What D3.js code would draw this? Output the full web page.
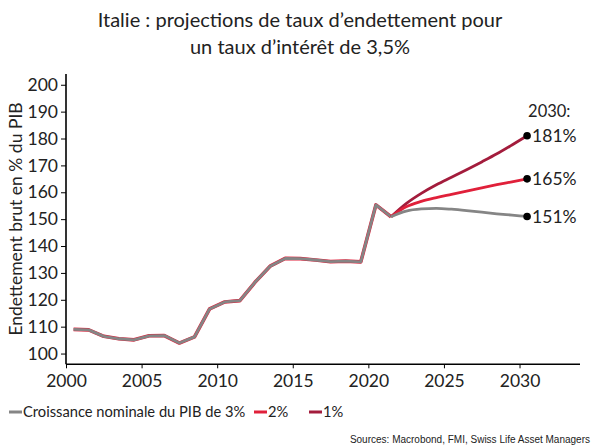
<!DOCTYPE html>
<html><head><meta charset="utf-8">
<script src="https://cdn.jsdelivr.net/npm/d3@7"></script>
<style>body{margin:0;background:#fff}svg{display:block}</style>
</head><body><svg id="c" width="593" height="446"></svg>
<script>
const histYears = [2000,2001,2002,2003,2004,2005,2006,2007,2008,2009,2010,2011,2012,2013,2014,2015,2016,2017,2018,2019,2020,2021];
const histValues = [109,108.8,106.4,105.5,105.1,106.6,106.7,103.9,106.2,116.6,119.2,119.7,126.5,132.5,135.4,135.3,134.8,134.2,134.4,134.1,155.3,150.9];
const projYears = [2021,2022,2023,2024,2025,2026,2027,2028,2029,2030];
const proj3 = [150.9,153.0,153.8,154.0,153.7,153.2,152.6,152.0,151.5,151];
const proj2 = [150.9,154.6,156.6,158.0,159.2,160.4,161.6,162.8,163.9,165];
const proj1 = [150.9,155.8,159.6,162.8,165.6,168.4,171.3,174.3,177.6,181];
const seriesNames = ["Croissance nominale du PIB de 3%","2%","1%"];
const seriesColors = ["#858585","#e0203a","#a31c3c"];
const endLabels = ["151%","165%","181%"];
const yTicks = [100,110,120,130,140,150,160,170,180,190,200];
const xTicks = [2000,2005,2010,2015,2020,2025,2030];

const svg = d3.select("#c");
const font = "Lato, 'Open Sans', sans-serif";
const x = d3.scaleLinear().domain([2000,2034]).range([66,580]);
const y = d3.scaleLinear().domain([96,204]).range([364.3,74]);

// title
svg.append("text").attr("x",300).attr("y",27).attr("text-anchor","middle")
  .attr("font-family",font).attr("font-size",20).attr("fill","#222")
  .text("Italie : projections de taux d’endettement pour");
svg.append("text").attr("x",300).attr("y",54).attr("text-anchor","middle")
  .attr("font-family",font).attr("font-size",20).attr("fill","#222")
  .text("un taux d’intérêt de 3,5%");

// axes
const yAxis = svg.append("g").attr("transform","translate(66,0)")
  .call(d3.axisLeft(y).tickValues(yTicks).tickSize(5).tickPadding(3));
const xAxis = svg.append("g").attr("transform","translate(0,364.3)")
  .call(d3.axisBottom(x).tickValues(xTicks).tickFormat(d3.format("d")).tickSize(4).tickPadding(6));
[yAxis,xAxis].forEach(a=>{
  a.select(".domain").attr("stroke","#000").attr("stroke-width",1.6);
  a.selectAll(".tick line").attr("stroke","#000");
  a.selectAll("text").attr("font-family",font).attr("font-size",17.5).attr("fill","#222");
});
yAxis.select(".domain").attr("d",`M0,${y(204)}V${y(96)}`);
xAxis.select(".domain").attr("d",`M${x(2000)},0H${x(2034)}`);

svg.append("text").attr("transform",`translate(22,${(74+364)/2}) rotate(-90)`)
  .attr("text-anchor","middle").attr("font-family",font).attr("font-size",17.5).attr("fill","#222")
  .text("Endettement brut en % du PIB");

const line = d3.line().x(d=>x(d[0]+0.5)).y(d=>y(d[1])).curve(d3.curveMonotoneX);
const hist = histYears.map((yr,i)=>[yr,histValues[i]]);
const histLine = d3.line().x(d=>x(d[0]+0.5)).y(d=>y(d[1]));
const projs = [proj3,proj2,proj1];

svg.append("path").attr("d",histLine(hist)).attr("fill","none").attr("stroke",seriesColors[1]).attr("stroke-width",3.6).attr("stroke-linejoin","round");
svg.append("path").attr("d",histLine(hist)).attr("fill","none").attr("stroke",seriesColors[0]).attr("stroke-width",2.8).attr("stroke-linejoin","round");

[2,1,0].forEach(i=>{
  const pts = projYears.map((yr,j)=>[yr,projs[i][j]]);
  svg.append("path").attr("d",line(pts)).attr("fill","none")
    .attr("stroke",seriesColors[i]).attr("stroke-width",2.8).attr("stroke-linejoin","round");
});
projs.forEach((p,i)=>{
  const last = p[p.length-1];
  const yr = projYears[projYears.length-1];
  svg.append("circle").attr("cx",x(yr+0.5)).attr("cy",y(last)).attr("r",3.8).attr("fill","#000");
  svg.append("text").attr("x",x(yr+0.5)+5).attr("y",y(last)).attr("dy","0.35em")
    .attr("font-family",font).attr("font-size",17.5).attr("fill","#222").text(endLabels[i]);
});
svg.append("text").attr("x",x(2030.5)+1).attr("y",y(181)-19)
  .attr("font-family",font).attr("font-size",16.5).attr("fill","#222").text("2030:");

// legend
const lg = svg.append("g").attr("font-family",font).attr("font-size",14.7).attr("fill","#222");
const legX = [9, 254, 309];
seriesNames.forEach((n,i)=>{
  lg.append("line").attr("x1",legX[i]).attr("x2",legX[i]+13).attr("y1",412).attr("y2",412)
    .attr("stroke",seriesColors[i]).attr("stroke-width",3);
  lg.append("text").attr("x",legX[i]+14).attr("y",412).attr("dy","0.35em").text(n);
});

svg.append("text").attr("x",590).attr("y",443).attr("text-anchor","end")
  .attr("font-family","'Liberation Sans', Arial, sans-serif").attr("font-size",10).attr("fill","#222")
  .text("Sources: Macrobond, FMI, Swiss Life Asset Managers");
</script></body></html>
